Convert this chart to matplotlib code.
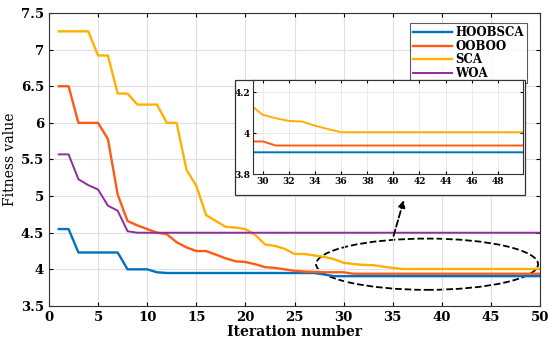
import matplotlib
matplotlib.use("Agg")
import matplotlib.pyplot as plt
from matplotlib.patches import Ellipse, Rectangle

# --- data ---
iters = list(range(1, 51))
hoobsca = [4.55, 4.55] + [4.23] * 5 + [4.0] * 3 + [3.96] + [3.95] * 16 + [3.93] + [3.907] * 22
ooboo = [6.5, 6.5, 6.0, 6.0, 6.0, 5.78, 5.02, 4.66, 4.6, 4.55,
         4.5, 4.48, 4.37, 4.3, 4.25, 4.25, 4.2, 4.15, 4.11, 4.1,
         4.07, 4.03, 4.02, 4.0, 3.98, 3.97, 3.965, 3.96, 3.96, 3.96] + [3.94] * 20
sca = [7.25, 7.25, 7.25, 7.25, 6.92, 6.92, 6.4, 6.4, 6.25, 6.25,
       6.25, 6.0, 6.0, 5.36, 5.14, 4.74, 4.66, 4.58, 4.57, 4.55,
       4.47, 4.34, 4.32, 4.28, 4.21, 4.21, 4.19, 4.17, 4.14, 4.09,
       4.073, 4.06, 4.057, 4.037, 4.02] + [4.005] * 15
woa = [5.57, 5.57, 5.23, 5.15, 5.09, 4.87, 4.8, 4.52] + [4.5] * 42

names = ["HOOBSCA", "OOBOO", "SCA", "WOA"]
colors = ["#0072BD", "#FF5A14", "#FFB000", "#8E2D9E"]
series = [hoobsca, ooboo, sca, woa]

plt.rcParams['font.family'] = 'DejaVu Serif'

fig = plt.figure(figsize=(5.5, 3.43), dpi=100)
ax = fig.add_axes([0.089, 0.108, 0.893, 0.854])

for y, c, n in zip(series, colors, names):
    lw = 1.4 if n == "WOA" else 1.7
    ax.plot(iters, y, color=c, lw=lw, label=n)

ax.set_xlim(0, 50)
ax.set_ylim(3.5, 7.5)
ax.set_xticks(range(0, 51, 5))
ax.set_yticks([3.5, 4, 4.5, 5, 5.5, 6, 6.5, 7, 7.5])
ax.set_yticklabels(["3.5", "4", "4.5", "5", "5.5", "6", "6.5", "7", "7.5"])
ax.grid(True, color="#e0e0e0", lw=0.8)
ax.tick_params(direction="in", top=True, right=True, labelsize=9.5, length=3)
for lab in ax.get_xticklabels() + ax.get_yticklabels():
    lab.set_fontweight("bold")
for s in ax.spines.values():
    s.set_color("#333333")
ax.set_xlabel("Iteration number", fontsize=10, fontweight="bold", labelpad=1)
ax.set_ylabel("Fitness value", fontsize=10, labelpad=3)

leg = ax.legend(loc="upper right", bbox_to_anchor=(0.985, 0.985), fontsize=8.5,
                prop={"weight": "bold", "size": 8.5}, frameon=True, fancybox=False,
                edgecolor="#333333", borderpad=0.25, labelspacing=0.05,
                handlelength=3.3, handletextpad=0.3)
leg.get_frame().set_linewidth(0.8)

# zoom ellipse + dashed arrow
ax.add_patch(Ellipse((38.5, 4.07), 22.6, 0.7, fill=False, ls="--", lw=1.3, ec="black"))
ax.annotate("", xy=(36.2, 4.98), xytext=(35.0, 4.42),
            arrowprops=dict(arrowstyle="-|>", ls="--", lw=1.3, color="black",
                            mutation_scale=10))

# inset frame (white box behind inset axes)
fig.patches.append(Rectangle((0.427, 0.431), 0.527, 0.336, transform=fig.transFigure,
                             facecolor="white", edgecolor="#333333", lw=0.9, zorder=1))

ins = fig.add_axes([0.46, 0.492, 0.490, 0.275], zorder=2)
for y, c in zip(series, colors):
    ins.plot(iters, y, color=c, lw=1.4)
ins.set_xlim(29.25, 49.9)
ins.set_ylim(3.8, 4.26)
ins.set_xticks(range(30, 50, 2))
ins.set_yticks([3.8, 4.0, 4.2])
ins.set_yticklabels(["3.8", "4", "4.2"])
ins.grid(True, color="#e6e6e6", lw=0.6)
ins.tick_params(direction="in", top=True, right=True, labelsize=6.5, length=2, pad=2)
for lab in ins.get_xticklabels() + ins.get_yticklabels():
    lab.set_fontweight("bold")
for s in ins.spines.values():
    s.set_color("#333333")

fig.savefig("out.png", dpi=100)
